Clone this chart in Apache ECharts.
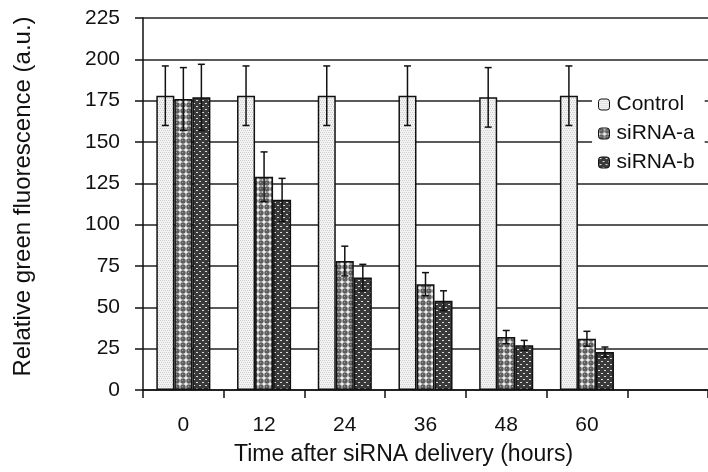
<!DOCTYPE html>
<html>
<head>
<meta charset="utf-8">
<script src="https://cdn.jsdelivr.net/npm/echarts@6/dist/echarts.min.js"></script>
<style>
  html, body { margin: 0; padding: 0; background: #fff; }
  #myChart { width: 708px; height: 472px; }
</style>
</head>
<body>
<div id="myChart"></div>
<script>
// hours after delivery (last slot is empty, as in the original)
const categories = ['0', '12', '24', '36', '48', '60', '']
const control = [178, 178, 178, 178, 177, 178]
const controlErr = [18, 18, 18, 18, 18, 18]
const sirnaA = [176, 129, 78, 64, 32, 31]
const sirnaAErr = [19, 15, 9, 7, 4, 4.5]
const sirnaB = [177, 115, 68, 54, 27, 23]
const sirnaBErr = [20, 13, 8, 6, 3, 3]
const yTicks = { min: 0, max: 225, interval: 25 }

const FONT = "'Liberation Sans', Arial, sans-serif"

// small canvas tiles for the hatch fills
function makePattern (kind) {
  const c = document.createElement('canvas')
  c.width = 6
  c.height = 6
  const ctx = c.getContext('2d')
  if (kind === 'dots') {
    c.width = 4
    c.height = 4
    ctx.fillStyle = '#f3f3f3'
    ctx.fillRect(0, 0, 4, 4)
    ctx.fillStyle = '#cdcdcd'
    ;[[0, 0], [2, 0], [1, 2], [3, 2]].forEach(p => ctx.fillRect(p[0], p[1], 1, 1))
  } else if (kind === 'circles') {
    ctx.fillStyle = '#f0f0f0'
    ctx.fillRect(0, 0, 6, 6)
    ctx.fillStyle = '#5e5e5e'
    ctx.beginPath()
    ctx.arc(3, 3, 2.7, 0, Math.PI * 2)
    ctx.fill()
    ctx.fillStyle = '#a0a0a0'
    ctx.fillRect(2, 2, 1, 1)
  } else {
    ctx.fillStyle = '#3a3a3a'
    ctx.fillRect(0, 0, 6, 6)
    ctx.fillStyle = '#dcdcdc'
    ctx.fillRect(1, 1, 2, 1)
    ctx.fillRect(4, 4, 2, 1)
  }
  return { image: c, repeat: 'repeat' }
}

const names = ['Control', 'siRNA-a', 'siRNA-b']
const values = [control, sirnaA, sirnaB]
const errors = [controlErr, sirnaAErr, sirnaBErr]
const fills = [makePattern('dots'), makePattern('circles'), makePattern('dense')]
const BAR_GAP = 0.33

const barSeries = names.map((name, i) => ({
  name: name,
  type: 'bar',
  data: values[i],
  barGap: '0%',
  barCategoryGap: (BAR_GAP * 100) + '%',
  itemStyle: { color: fills[i], borderColor: '#111', borderWidth: 1.5 },
  emphasis: { disabled: true },
  z: 2
}))

const errSeries = names.map((name, i) => ({
  type: 'custom',
  silent: true,
  z: 5,
  data: values[i].map((v, k) => [k, v, errors[i][k]]),
  renderItem: (params, api) => {
    const k = api.value(0)
    const v = api.value(1)
    const e = api.value(2)
    const band = api.size([1, 0])[0]
    const bw = band * (1 - BAR_GAP) / 3
    const x = api.coord([k, v])[0] + (i - 1) * bw
    const top = api.coord([k, v + e])[1]
    const bot = api.coord([k, v - e])[1]
    const cap = 3.5
    const style = { stroke: '#111', lineWidth: 1.5 }
    return {
      type: 'group',
      children: [
        { type: 'line', shape: { x1: x, y1: top, x2: x, y2: bot }, style: style },
        { type: 'line', shape: { x1: x - cap, y1: top, x2: x + cap, y2: top }, style: style },
        { type: 'line', shape: { x1: x - cap, y1: bot, x2: x + cap, y2: bot }, style: style }
      ]
    }
  }
}))

const chart = echarts.init(document.getElementById('myChart'))
chart.setOption({
  animation: false,
  backgroundColor: '#fff',
  textStyle: { fontFamily: FONT, color: '#111' },
  grid: { left: 143, top: 18, bottom: 82, right: -11 },
  legend: {
    data: names,
    orient: 'vertical',
    left: 592,
    top: 88,
    padding: [6, 10, 6, 6],
    itemWidth: 11,
    itemHeight: 11,
    itemGap: 8,
    backgroundColor: '#fff',
    itemStyle: { borderColor: '#111', borderWidth: 1 },
    textStyle: { fontFamily: FONT, fontSize: 21, color: '#111', padding: [0, 0, 0, 2] }
  },
  xAxis: {
    type: 'category',
    data: categories,
    name: 'Time after siRNA delivery (hours)',
    nameLocation: 'middle',
    nameGap: 53,
    nameTextStyle: { fontFamily: FONT, fontSize: 23, color: '#111', padding: [0, 44, 0, 0] },
    axisLine: { lineStyle: { color: '#111', width: 1.5 } },
    axisTick: { show: true, length: 8, lineStyle: { color: '#111', width: 1.5 } },
    axisLabel: { fontFamily: FONT, fontSize: 21, color: '#111', margin: 25 },
    splitLine: { show: false }
  },
  yAxis: {
    type: 'value',
    min: yTicks.min,
    max: yTicks.max,
    interval: yTicks.interval,
    name: 'Relative green fluorescence (a.u.)',
    nameLocation: 'middle',
    nameGap: 108,
    nameTextStyle: { fontFamily: FONT, fontSize: 24, color: '#111', padding: [0, 0, 0, 15] },
    axisLine: { show: true, lineStyle: { color: '#111', width: 1.5 } },
    axisTick: { show: true, length: 8, lineStyle: { color: '#111', width: 1.5 } },
    axisLabel: { fontFamily: FONT, fontSize: 21, color: '#111', margin: 23 },
    splitLine: { show: true, lineStyle: { color: '#222', width: 1.5 } }
  },
  series: barSeries.concat(errSeries)
})
</script>
</body>
</html>
